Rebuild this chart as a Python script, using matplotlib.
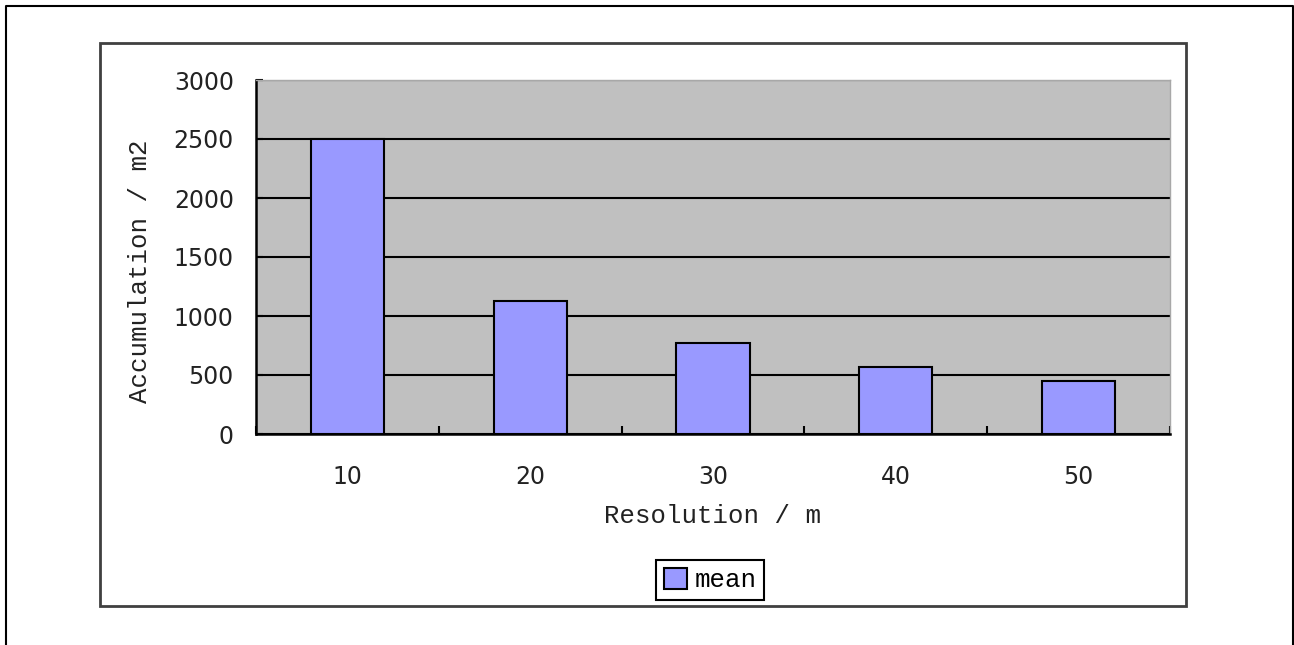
import numpy as np
import matplotlib.pyplot as plt
from matplotlib.patches import Rectangle
from matplotlib.lines import Line2D

# accumulation area (m2) for each grid resolution
resolution = ['10', '20', '30', '40', '50']
mean_acc = [2500, 1127, 771, 568, 445]

y_ticks = [0, 500, 1000, 1500, 2000, 2500, 3000]

fig = plt.figure(figsize=(12.94, 6.45), dpi=100)
ax = fig.add_axes([256/1294, 1 - 434/645, 914/1294, 354/645])

x = np.arange(len(resolution))
ax.set_facecolor('#C0C0C0')
ax.yaxis.grid(True, color='black', linewidth=1.5)
ax.set_axisbelow(True)
ax.bar(x, mean_acc, width=0.4, color='#9999FF', edgecolor='black',
       linewidth=1.5, label='mean', zorder=3)

ax.set_xlim(-0.5, len(resolution) - 0.5)
ax.set_ylim(0, 3000)
ax.set_yticks(y_ticks)
ax.set_yticklabels([str(v) for v in y_ticks], fontsize=17, color='#222222')
ax.set_xticks(x)
ax.set_xticklabels(resolution, fontsize=17, color='#222222')
ax.set_xticks(np.arange(len(resolution) + 1) - 0.5, minor=True)
ax.tick_params(axis='x', which='major', length=0, pad=22)
ax.tick_params(axis='x', which='minor', direction='in', length=6, width=1.5)
ax.tick_params(axis='y', direction='in', length=5, width=1.5, pad=16)

for s in ['top', 'right']:
    ax.spines[s].set_color('#A8A8A8')
    ax.spines[s].set_linewidth(1)
for s in ['left', 'bottom']:
    ax.spines[s].set_color('black')
    ax.spines[s].set_linewidth(1.8)

mono = 'Liberation Mono'
ax.set_xlabel('Resolution / m', fontsize=18.5, family=mono, color='#222222')
ax.xaxis.set_label_coords(0.5, -0.232)
ax.xaxis.label.set_va('center')
ax.set_ylabel('Accumulation / m2', fontsize=18.5, family=mono, color='#222222')
ax.yaxis.set_label_coords(-0.127, 0.46)
ax.yaxis.label.set_va('center')

leg = fig.legend(loc='center', bbox_to_anchor=(710/1294, 1 - 580/645),
                 prop={'family': mono, 'size': 18.5}, fancybox=False,
                 edgecolor='black', framealpha=1, handlelength=0.9,
                 handleheight=0.9, handletextpad=0.3, borderpad=0.3,
                 borderaxespad=0)
leg.get_frame().set_linewidth(1.5)

# chart area border
fig.patches.append(Rectangle((100/1294, 1 - 606/645), 1086/1294, 563/645,
                             transform=fig.transFigure, fill=False,
                             edgecolor='#404040', linewidth=2))
# outer frame (open at the bottom)
fig.lines.append(Line2D([6/1294, 6/1294, 1293/1294, 1293/1294],
                        [0, 1 - 6/645, 1 - 6/645, 0],
                        transform=fig.transFigure, color='black', linewidth=1.5))

fig.savefig('out.png', dpi=100)
